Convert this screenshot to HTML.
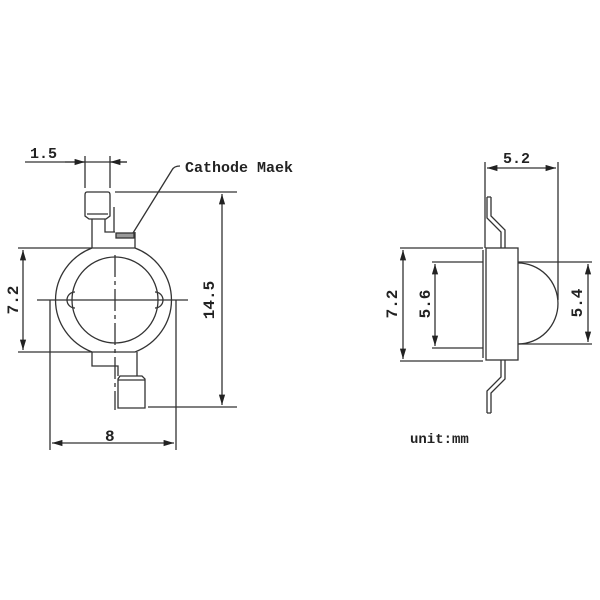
<!DOCTYPE html>
<html><head><meta charset="utf-8"><style>
html,body{margin:0;padding:0;background:#fff;}
svg{display:block}
text{font-family:"Liberation Mono",monospace;fill:#222;font-weight:bold}
</style></head><body>
<svg width="600" height="600" viewBox="0 0 600 600" xmlns="http://www.w3.org/2000/svg">
<defs>
<marker id="a" viewBox="0 0 10 6" refX="10" refY="3" markerWidth="8" markerHeight="5" orient="auto-start-reverse"><path d="M0,0 L10,3 L0,6 z" fill="#222"/></marker>
</defs>
<g stroke="#333" stroke-width="1.3" fill="none">
<line x1="25" y1="162" x2="127" y2="162"/>
<line x1="65" y1="162" x2="85" y2="162" marker-end="url(#a)"/>
<line x1="127" y1="162" x2="110" y2="162" marker-end="url(#a)"/>
<line x1="85" y1="156" x2="85" y2="188"/>
<line x1="110" y1="156" x2="110" y2="188"/>
<path d="M87,192 L108,192 Q110,192 110,195 L110,216 L106,219 L89,219 L85,216 L85,195 Q85,192 87,192 Z"/>
<line x1="87" y1="214" x2="108" y2="214"/>
<path d="M92,219 L92,248 M105,219 L105,232 L115,232"/>
<line x1="114" y1="207" x2="114" y2="232"/>
<rect x="116" y="233" width="18" height="5" fill="#999"/>
<path d="M135,232 L135,248"/>
<path d="M92,248 L135,248 A58,56 0 0 1 135,352 L92,352 A58,56 0 0 1 92,248 Z"/>
<circle cx="115" cy="300" r="43"/>
<path d="M75,292 A8,8 0 0 0 75,308"/>
<path d="M155,292 A8,8 0 0 1 155,308"/>
<line x1="37" y1="300" x2="188" y2="300"/>
<line x1="115" y1="255" x2="115" y2="410" stroke-dasharray="22,4,4,4"/>
<path d="M92,352 L92,366 L118,366 L118,376 M137,352 L137,376"/>
<path d="M120,376 L142,376 L145,379 L145,408 L118,408 L118,379 Z"/>
<line x1="118" y1="380" x2="145" y2="380"/>
<line x1="18" y1="248" x2="92" y2="248"/>
<line x1="18" y1="352" x2="92" y2="352"/>
<line x1="23" y1="250" x2="23" y2="350" marker-start="url(#a)" marker-end="url(#a)"/>
<line x1="115" y1="192" x2="237" y2="192"/>
<line x1="148" y1="407" x2="237" y2="407"/>
<line x1="222" y1="194" x2="222" y2="405" marker-start="url(#a)" marker-end="url(#a)"/>
<line x1="50" y1="300" x2="50" y2="450"/>
<line x1="176" y1="300" x2="176" y2="450"/>
<line x1="52" y1="443" x2="174" y2="443" marker-start="url(#a)" marker-end="url(#a)"/>
<path d="M133,233 L172,170 Q174,166 180,166"/>

<line x1="485" y1="162" x2="485" y2="248"/>
<line x1="558" y1="162" x2="558" y2="300"/>
<line x1="487" y1="168" x2="556" y2="168" marker-start="url(#a)" marker-end="url(#a)"/>
<path d="M487,197 L487,218 L501,232 L501,248 M491,197 L491,216 L505,230 L505,248 M487,197 L491,197"/>
<rect x="486" y="248" width="32" height="112"/>
<line x1="483" y1="250" x2="483" y2="358"/>
<line x1="432" y1="262" x2="483" y2="262"/>
<line x1="432" y1="348" x2="483" y2="348"/>
<path d="M518,263 A40,40.5 0 0 1 518,344"/>
<path d="M501,360 L501,377 L487,391 L487,413 M505,360 L505,379 L491,393 L491,413 M487,413 L491,413"/>
<line x1="400" y1="248" x2="483" y2="248"/>
<line x1="400" y1="361" x2="483" y2="361"/>
<line x1="403" y1="250" x2="403" y2="359" marker-start="url(#a)" marker-end="url(#a)"/>
<line x1="435" y1="264" x2="435" y2="346" marker-start="url(#a)" marker-end="url(#a)"/>
<line x1="518" y1="262" x2="592" y2="262"/>
<line x1="518" y1="344" x2="592" y2="344"/>
<line x1="588" y1="264" x2="588" y2="342" marker-start="url(#a)" marker-end="url(#a)"/>
</g>
<text x="30" y="158" font-size="15">1.5</text>
<text x="185" y="172" font-size="15">Cathode Maek</text>
<text x="105" y="441" font-size="16">8</text>
<text transform="translate(18,300) rotate(-90)" font-size="16" text-anchor="middle">7.2</text>
<text transform="translate(214,300) rotate(-90)" font-size="16" text-anchor="middle">14.5</text>
<text x="503" y="163" font-size="15">5.2</text>
<text transform="translate(397,304) rotate(-90)" font-size="16" text-anchor="middle">7.2</text>
<text transform="translate(430,304) rotate(-90)" font-size="16" text-anchor="middle">5.6</text>
<text transform="translate(582,303) rotate(-90)" font-size="16" text-anchor="middle">5.4</text>
<text x="410" y="443" font-size="14">unit:mm</text>
</svg>
</body></html>
